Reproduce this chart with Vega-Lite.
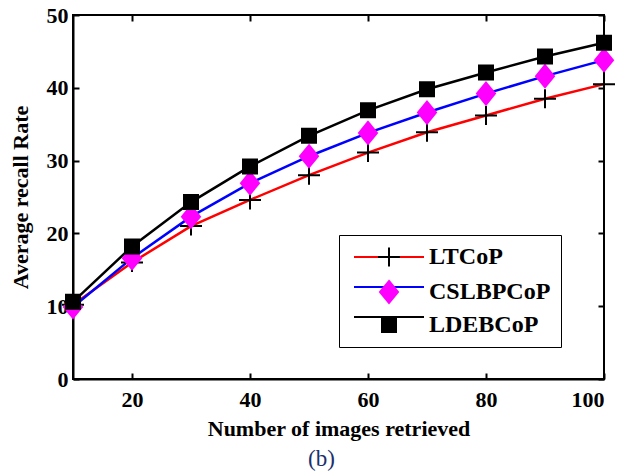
{
  "$schema": "https://vega.github.io/schema/vega-lite/v6.json",
  "width": 531,
  "height": 364,
  "autosize": {"type": "none"},
  "padding": {"left": 73, "top": 15, "right": 16, "bottom": 96},
  "background": "white",
  "config": {
    "font": "Times New Roman, Liberation Serif, Times, serif",
    "view": {"stroke": "black", "strokeWidth": 2},
    "axis": {
      "grid": false,
      "domainColor": "black",
      "domainWidth": 2,
      "tickColor": "black",
      "tickWidth": 2,
      "tickSize": -6,
      "labelFont": "Times New Roman, Liberation Serif, Times, serif",
      "labelFontWeight": "bold",
      "labelFontSize": 22,
      "labelColor": "black",
      "titleFont": "Times New Roman, Liberation Serif, Times, serif",
      "titleFontWeight": "bold",
      "titleFontSize": 22,
      "titleColor": "black"
    }
  },
  "title": {
    "text": "(b)",
    "orient": "bottom",
    "font": "Times New Roman, Liberation Serif, Times, serif",
    "fontWeight": "normal",
    "fontSize": 23,
    "color": "#1c2f6e",
    "dx": -17,
    "offset": 9
  },
  "data": {
    "values": [
      {"method": "LTCoP", "images": 10, "recall": 10.2},
      {"method": "LTCoP", "images": 20, "recall": 16.0},
      {"method": "LTCoP", "images": 30, "recall": 21.0},
      {"method": "LTCoP", "images": 40, "recall": 24.6},
      {"method": "LTCoP", "images": 50, "recall": 28.0},
      {"method": "LTCoP", "images": 60, "recall": 31.1},
      {"method": "LTCoP", "images": 70, "recall": 33.9},
      {"method": "LTCoP", "images": 80, "recall": 36.2},
      {"method": "LTCoP", "images": 90, "recall": 38.5},
      {"method": "LTCoP", "images": 100, "recall": 40.5},
      {"method": "CSLBPCoP", "images": 10, "recall": 9.9},
      {"method": "CSLBPCoP", "images": 20, "recall": 16.6},
      {"method": "CSLBPCoP", "images": 30, "recall": 22.3},
      {"method": "CSLBPCoP", "images": 40, "recall": 26.9},
      {"method": "CSLBPCoP", "images": 50, "recall": 30.6},
      {"method": "CSLBPCoP", "images": 60, "recall": 33.8},
      {"method": "CSLBPCoP", "images": 70, "recall": 36.6},
      {"method": "CSLBPCoP", "images": 80, "recall": 39.2},
      {"method": "CSLBPCoP", "images": 90, "recall": 41.6},
      {"method": "CSLBPCoP", "images": 100, "recall": 43.8},
      {"method": "LDEBCoP", "images": 10, "recall": 10.6},
      {"method": "LDEBCoP", "images": 20, "recall": 18.2},
      {"method": "LDEBCoP", "images": 30, "recall": 24.3},
      {"method": "LDEBCoP", "images": 40, "recall": 29.2},
      {"method": "LDEBCoP", "images": 50, "recall": 33.4},
      {"method": "LDEBCoP", "images": 60, "recall": 36.9},
      {"method": "LDEBCoP", "images": 70, "recall": 39.8},
      {"method": "LDEBCoP", "images": 80, "recall": 42.1},
      {"method": "LDEBCoP", "images": 90, "recall": 44.3},
      {"method": "LDEBCoP", "images": 100, "recall": 46.2}
    ]
  },
  "layer": [
    {
      "mark": {"type": "line", "strokeWidth": 2.5},
      "encoding": {
        "x": {
          "field": "images",
          "type": "quantitative",
          "scale": {"domain": [10, 100], "nice": false, "zero": false},
          "axis": {"values": [20, 40, 60, 80, 100], "title": "Number of images retrieved", "labelPadding": 16, "titlePadding": 8}
        },
        "y": {
          "field": "recall",
          "type": "quantitative",
          "scale": {"domain": [0, 50], "nice": false},
          "axis": {"values": [0, 10, 20, 30, 40, 50], "title": "Average recall Rate", "labelPadding": 11, "titlePadding": 14}
        },
        "color": {
          "field": "method",
          "type": "nominal",
          "scale": {"domain": ["LTCoP", "CSLBPCoP", "LDEBCoP"], "range": ["#ff0000", "#0000ff", "#000000"]},
          "legend": {
            "title": null,
            "orient": "none",
            "legendX": 266,
            "legendY": 220,
            "padding": 10,
            "rowPadding": 6,
            "symbolType": "M-3.5,0H3.5",
            "symbolSize": 400,
            "symbolStrokeWidth": 2,
            "symbolOffset": 28,
            "labelOffset": 28,
            "labelExpr": "' '",
            "labelFont": "Times New Roman, Liberation Serif, Times, serif",
            "labelFontSize": 24,
            "labelFontWeight": "bold",
            "labelColor": "transparent"
          }
        }
      }
    },
    {
      "mark": {"type": "point", "filled": true, "size": 400, "strokeWidth": 2, "opacity": 1},
      "encoding": {
        "x": {
          "field": "images",
          "type": "quantitative",
          "axis": {"orient": "top", "values": [20, 40, 60, 80, 100], "labels": false, "domain": false, "title": null}
        },
        "y": {
          "field": "recall",
          "type": "quantitative",
          "axis": {"orient": "right", "values": [0, 10, 20, 30, 40, 50], "labels": false, "domain": false, "title": null}
        },
        "shape": {
          "field": "method",
          "type": "nominal",
          "scale": {"domain": ["LTCoP", "CSLBPCoP", "LDEBCoP"], "range": ["M-1.1,0H1.1M0,-0.95V0.95", "M0,-1.1L0.9,0L0,1.1L-0.9,0Z", "M-0.7,-0.7H0.7V0.7H-0.7Z"]},
          "legend": {
            "title": null,
            "orient": "none",
            "legendX": 266,
            "legendY": 220,
            "padding": 10,
            "rowPadding": 6,
            "strokeColor": "black",
            "symbolSize": 400,
            "symbolStrokeWidth": 2,
            "symbolOffset": 28,
            "labelOffset": 28,
            "labelFont": "Times New Roman, Liberation Serif, Times, serif",
            "labelFontSize": 24,
            "labelFontWeight": "bold",
            "labelColor": "black"
          }
        },
        "fill": {
          "field": "method",
          "type": "nominal",
          "scale": {"domain": ["LTCoP", "CSLBPCoP", "LDEBCoP"], "range": ["#000000", "#ff00ff", "#000000"]}
        },
        "stroke": {
          "field": "method",
          "type": "nominal",
          "scale": {"domain": ["LTCoP", "CSLBPCoP", "LDEBCoP"], "range": ["#000000", "#ff00ff", "#000000"]}
        }
      }
    }
  ],
  "resolve": {
    "axis": {"x": "independent", "y": "independent"},
    "legend": {"color": "independent", "shape": "independent", "fill": "independent", "stroke": "independent"}
  }
}
